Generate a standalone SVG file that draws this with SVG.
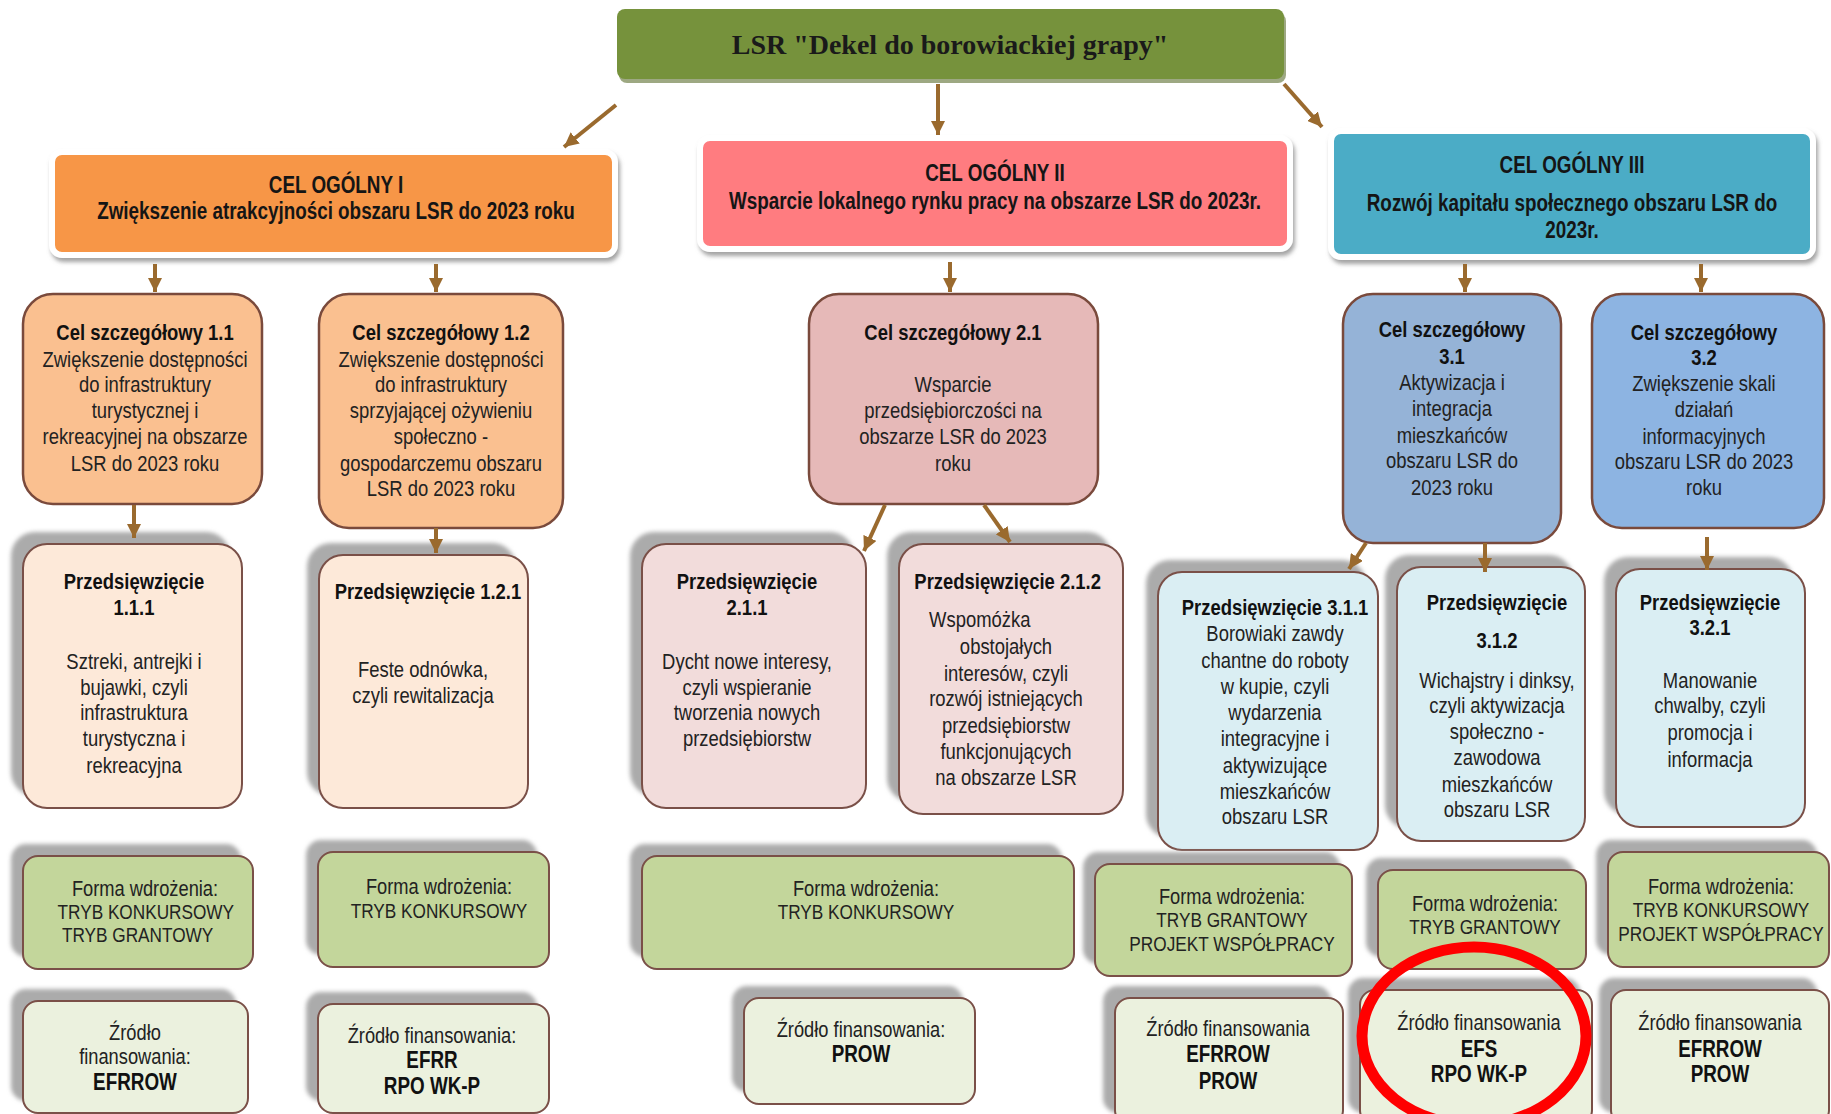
<svg xmlns="http://www.w3.org/2000/svg" width="1831" height="1114" viewBox="0 0 1831 1114">
<defs>
<style>
.t{font-family:'Liberation Sans',Arial,sans-serif;text-anchor:middle;fill:#222}
.b{font-weight:bold;fill:#111}
.f22{font-size:22.5px}
.f21{font-size:21px}
.fz{font-size:22.3px}
.f23{font-size:23px}
.og{font-family:'Liberation Sans',Arial,sans-serif;font-weight:bold;font-size:23px;text-anchor:middle;fill:#151515}
.sh{fill:#ababab;filter:url(#bl)}
.l2{stroke:#7a4a3c;stroke-width:2.5}
.l3{stroke:#7a5048;stroke-width:2}
.cel{stroke:#fff;stroke-width:6;filter:url(#ds)}
.c1{fill:#fac090}.c2{fill:#e6b9b8}.c3a{fill:#95b3d7}.c3b{fill:#8db4e2}
.p1{fill:#fde9d9}.p2{fill:#f2dcdb}.p3{fill:#daeef3}
.fw{fill:#c3d69b}.zf{fill:#ebf1de}
.ar{stroke:#9a6a2e;stroke-width:4;fill:none;marker-end:url(#ah)}
</style>
<filter id="bl" x="-10%" y="-10%" width="120%" height="120%"><feGaussianBlur stdDeviation="2"/></filter>
<filter id="ds" x="-10%" y="-20%" width="120%" height="150%"><feDropShadow dx="2" dy="4" stdDeviation="2" flood-color="#8c8c8c" flood-opacity="0.8"/></filter>
<marker id="ah" viewBox="0 0 10 10" refX="10" refY="5" markerWidth="3.6" markerHeight="3.6" orient="auto" markerUnits="strokeWidth"><path d="M0,0 L10,5 L0,10 z" fill="#9a6a2e"/></marker>
</defs>
<rect width="1831" height="1114" fill="#fff"/>

<g id="lsr">
<rect x="619" y="13" width="667" height="70" rx="8" fill="#5b6e2e" opacity="0.6"/>
<rect x="617" y="9" width="667" height="70" rx="8" fill="#76923c"/>
<text x="950" y="54" style="font-family:'Liberation Serif',serif;font-weight:bold;font-size:28px;text-anchor:middle;fill:#1a1a1a">LSR "Dekel do borowiackiej grapy"</text>
</g>

<g id="cel-ogolny-1">
<rect class="cel" x="52" y="152" width="563" height="103" rx="10" fill="#f79646"/>
<g transform="translate(336 0) scale(0.82 1) translate(-336 0)">
<text class="og" x="336" y="193">CEL OGÓLNY I</text>
<text class="og" x="336" y="219">Zwiększenie atrakcyjności obszaru LSR do 2023 roku</text>
</g>
</g>
<g id="cel-ogolny-2">
<rect class="cel" x="700" y="138" width="590" height="111" rx="10" fill="#ff7c80"/>
<g transform="translate(995 0) scale(0.82 1) translate(-995 0)">
<text class="og" x="995" y="181">CEL OGÓLNY II</text>
<text class="og" x="995" y="209">Wsparcie lokalnego rynku pracy na obszarze LSR do 2023r.</text>
</g>
</g>
<g id="cel-ogolny-3">
<rect class="cel" x="1331" y="131" width="482" height="126" rx="10" fill="#4bacc6"/>
<g transform="translate(1572 0) scale(0.82 1) translate(-1572 0)">
<text class="og" x="1572" y="173">CEL OGÓLNY III</text>
<text class="og" x="1572" y="211">Rozwój kapitału społecznego obszaru LSR do</text>
<text class="og" x="1572" y="238">2023r.</text>
</g>
</g>

<g id="cel-1-1">
<rect class="c1 l2" x="23" y="294" width="239" height="210" rx="30"/>
<g transform="translate(145 0) scale(0.82 1) translate(-145 0)">
<text class="t f22 b" x="145" y="340">Cel szczegółowy 1.1</text>
<text class="t f22" x="145" y="367">Zwiększenie dostępności</text>
<text class="t f22" x="145" y="392">do infrastruktury</text>
<text class="t f22" x="145" y="418">turystycznej i</text>
<text class="t f22" x="145" y="444">rekreacyjnej na obszarze</text>
<text class="t f22" x="145" y="471">LSR do 2023 roku</text>
</g>
</g>
<g id="cel-1-2">
<rect class="c1 l2" x="319" y="294" width="244" height="234" rx="30"/>
<g transform="translate(441 0) scale(0.82 1) translate(-441 0)">
<text class="t f22 b" x="441" y="340">Cel szczegółowy 1.2</text>
<text class="t f22" x="441" y="367">Zwiększenie dostępności</text>
<text class="t f22" x="441" y="392">do infrastruktury</text>
<text class="t f22" x="441" y="418">sprzyjającej ożywieniu</text>
<text class="t f22" x="441" y="444">społeczno -</text>
<text class="t f22" x="441" y="471">gospodarczemu obszaru</text>
<text class="t f22" x="441" y="496">LSR do 2023 roku</text>
</g>
</g>
<g id="cel-2-1">
<rect class="c2 l2" x="809" y="294" width="289" height="210" rx="30"/>
<g transform="translate(953 0) scale(0.82 1) translate(-953 0)">
<text class="t f22 b" x="953" y="340">Cel szczegółowy 2.1</text>
<text class="t f22" x="953" y="392">Wsparcie</text>
<text class="t f22" x="953" y="418">przedsiębiorczości na</text>
<text class="t f22" x="953" y="444">obszarze LSR do 2023</text>
<text class="t f22" x="953" y="471">roku</text>
</g>
</g>
<g id="cel-3-1">
<rect class="c3a l2" x="1343" y="294" width="218" height="249" rx="30"/>
<g transform="translate(1452 0) scale(0.82 1) translate(-1452 0)">
<text class="t f22 b" x="1452" y="337">Cel szczegółowy</text>
<text class="t f22 b" x="1452" y="364">3.1</text>
<text class="t f22" x="1452" y="390">Aktywizacja i</text>
<text class="t f22" x="1452" y="416">integracja</text>
<text class="t f22" x="1452" y="443">mieszkańców</text>
<text class="t f22" x="1452" y="468">obszaru LSR do</text>
<text class="t f22" x="1452" y="495">2023 roku</text>
</g>
</g>
<g id="cel-3-2">
<rect class="c3b l2" x="1592" y="294" width="232" height="234" rx="30"/>
<g transform="translate(1704 0) scale(0.82 1) translate(-1704 0)">
<text class="t f22 b" x="1704" y="340">Cel szczegółowy</text>
<text class="t f22 b" x="1704" y="365">3.2</text>
<text class="t f22" x="1704" y="391">Zwiększenie skali</text>
<text class="t f22" x="1704" y="417">działań</text>
<text class="t f22" x="1704" y="444">informacyjnych</text>
<text class="t f22" x="1704" y="469">obszaru LSR do 2023</text>
<text class="t f22" x="1704" y="495">roku</text>
</g>
</g>

<g id="przedsiewziecie-1-1-1">
<rect class="sh" x="11" y="532" width="219" height="264" rx="24"/>
<rect class="p1 l3" x="23" y="544" width="219" height="264" rx="24"/>
<g transform="translate(134 0) scale(0.82 1) translate(-134 0)">
<text class="t f22 b" x="134" y="589">Przedsięwzięcie</text>
<text class="t f22 b" x="134" y="615">1.1.1</text>
<text class="t f22" x="134" y="669">Sztreki, antrejki i</text>
<text class="t f22" x="134" y="695">bujawki, czyli</text>
<text class="t f22" x="134" y="720">infrastruktura</text>
<text class="t f22" x="134" y="746">turystyczna i</text>
<text class="t f22" x="134" y="773">rekreacyjna</text>
</g>
</g>
<g id="przedsiewziecie-1-2-1">
<rect class="sh" x="307" y="543" width="209" height="253" rx="24"/>
<rect class="p1 l3" x="319" y="555" width="209" height="253" rx="24"/>
<g transform="translate(423 0) scale(0.82 1) translate(-423 0)">
<text class="t f22 b" x="429" y="599">Przedsięwzięcie 1.2.1</text>
<text class="t f22" x="423" y="677">Feste odnówka,</text>
<text class="t f22" x="423" y="703">czyli rewitalizacja</text>
</g>
</g>
<g id="przedsiewziecie-2-1-1">
<rect class="sh" x="630" y="532" width="224" height="264" rx="24"/>
<rect class="p2 l3" x="642" y="544" width="224" height="264" rx="24"/>
<g transform="translate(747 0) scale(0.82 1) translate(-747 0)">
<text class="t f22 b" x="747" y="589">Przedsięwzięcie</text>
<text class="t f22 b" x="747" y="615">2.1.1</text>
<text class="t f22" x="747" y="669">Dycht nowe interesy,</text>
<text class="t f22" x="747" y="695">czyli wspieranie</text>
<text class="t f22" x="747" y="720">tworzenia nowych</text>
<text class="t f22" x="747" y="746">przedsiębiorstw</text>
</g>
</g>
<g id="przedsiewziecie-2-1-2">
<rect class="sh" x="887" y="532" width="224" height="270" rx="24"/>
<rect class="p2 l3" x="899" y="544" width="224" height="270" rx="24"/>
<g transform="translate(1006 0) scale(0.82 1) translate(-1006 0)">
<text class="t f22 b" x="1008" y="589">Przedsięwzięcie 2.1.2</text>
<text class="t f22" x="974" y="627">Wspomóżka</text>
<text class="t f22" x="1006" y="654">obstojałych</text>
<text class="t f22" x="1006" y="681">interesów, czyli</text>
<text class="t f22" x="1006" y="706">rozwój istniejących</text>
<text class="t f22" x="1006" y="733">przedsiębiorstw</text>
<text class="t f22" x="1006" y="759">funkcjonujących</text>
<text class="t f22" x="1006" y="785">na obszarze LSR</text>
</g>
</g>
<g id="przedsiewziecie-3-1-1">
<rect class="sh" x="1146" y="560" width="220" height="278" rx="24"/>
<rect class="p3 l3" x="1158" y="572" width="220" height="278" rx="24"/>
<g transform="translate(1275 0) scale(0.82 1) translate(-1275 0)">
<text class="t f22 b" x="1275" y="615">Przedsięwzięcie 3.1.1</text>
<text class="t f22" x="1275" y="641">Borowiaki zawdy</text>
<text class="t f22" x="1275" y="668">chantne do roboty</text>
<text class="t f22" x="1275" y="694">w kupie, czyli</text>
<text class="t f22" x="1275" y="720">wydarzenia</text>
<text class="t f22" x="1275" y="746">integracyjne i</text>
<text class="t f22" x="1275" y="773">aktywizujące</text>
<text class="t f22" x="1275" y="799">mieszkańców</text>
<text class="t f22" x="1275" y="824">obszaru LSR</text>
</g>
</g>
<g id="przedsiewziecie-3-1-2">
<rect class="sh" x="1385" y="555" width="188" height="274" rx="24"/>
<rect class="p3 l3" x="1397" y="567" width="188" height="274" rx="24"/>
<g transform="translate(1497 0) scale(0.82 1) translate(-1497 0)">
<text class="t f22 b" x="1497" y="610">Przedsięwzięcie</text>
<text class="t f22 b" x="1497" y="648">3.1.2</text>
<text class="t f22" x="1497" y="688">Wichajstry i dinksy,</text>
<text class="t f22" x="1497" y="713">czyli aktywizacja</text>
<text class="t f22" x="1497" y="739">społeczno -</text>
<text class="t f22" x="1497" y="765">zawodowa</text>
<text class="t f22" x="1497" y="792">mieszkańców</text>
<text class="t f22" x="1497" y="817">obszaru LSR</text>
</g>
</g>
<g id="przedsiewziecie-3-2-1">
<rect class="sh" x="1604" y="557" width="189" height="258" rx="24"/>
<rect class="p3 l3" x="1616" y="569" width="189" height="258" rx="24"/>
<g transform="translate(1710 0) scale(0.82 1) translate(-1710 0)">
<text class="t f22 b" x="1710" y="610">Przedsięwzięcie</text>
<text class="t f22 b" x="1710" y="635">3.2.1</text>
<text class="t f22" x="1710" y="688">Manowanie</text>
<text class="t f22" x="1710" y="713">chwalby, czyli</text>
<text class="t f22" x="1710" y="740">promocja i</text>
<text class="t f22" x="1710" y="767">informacja</text>
</g>
</g>

<g id="forma-1">
<rect class="sh" x="11" y="844" width="230" height="113" rx="15"/>
<rect class="fw l3" x="23" y="856" width="230" height="113" rx="15"/>
<g transform="translate(145 0) scale(0.82 1) translate(-145 0)">
<text class="t fz" x="145" y="896">Forma wdrożenia:</text>
<text class="t f21" x="146" y="919">TRYB KONKURSOWY</text>
<text class="t f21" x="136" y="942">TRYB GRANTOWY</text>
</g>
</g>
<g id="forma-2">
<rect class="sh" x="306" y="840" width="231" height="115" rx="15"/>
<rect class="fw l3" x="318" y="852" width="231" height="115" rx="15"/>
<g transform="translate(439 0) scale(0.82 1) translate(-439 0)">
<text class="t fz" x="439" y="894">Forma wdrożenia:</text>
<text class="t f21" x="439" y="918">TRYB KONKURSOWY</text>
</g>
</g>
<g id="forma-3">
<rect class="sh" x="630" y="844" width="432" height="113" rx="15"/>
<rect class="fw l3" x="642" y="856" width="432" height="113" rx="15"/>
<g transform="translate(866 0) scale(0.82 1) translate(-866 0)">
<text class="t fz" x="866" y="896">Forma wdrożenia:</text>
<text class="t f21" x="866" y="919">TRYB KONKURSOWY</text>
</g>
</g>
<g id="forma-4">
<rect class="sh" x="1083" y="852" width="257" height="112" rx="15"/>
<rect class="fw l3" x="1095" y="864" width="257" height="112" rx="15"/>
<g transform="translate(1232 0) scale(0.82 1) translate(-1232 0)">
<text class="t fz" x="1232" y="904">Forma wdrożenia:</text>
<text class="t f21" x="1232" y="927">TRYB GRANTOWY</text>
<text class="t f21" x="1232" y="951">PROJEKT WSPÓŁPRACY</text>
</g>
</g>
<g id="forma-5">
<rect class="sh" x="1366" y="858" width="208" height="99" rx="15"/>
<rect class="fw l3" x="1378" y="870" width="208" height="99" rx="15"/>
<g transform="translate(1485 0) scale(0.82 1) translate(-1485 0)">
<text class="t fz" x="1485" y="911">Forma wdrożenia:</text>
<text class="t f21" x="1485" y="934">TRYB GRANTOWY</text>
</g>
</g>
<g id="forma-6">
<rect class="sh" x="1596" y="840" width="221" height="115" rx="15"/>
<rect class="fw l3" x="1608" y="852" width="221" height="115" rx="15"/>
<g transform="translate(1721 0) scale(0.82 1) translate(-1721 0)">
<text class="t fz" x="1721" y="894">Forma wdrożenia:</text>
<text class="t f21" x="1721" y="917">TRYB KONKURSOWY</text>
<text class="t f21" x="1721" y="941">PROJEKT WSPÓŁPRACY</text>
</g>
</g>

<g id="zrodlo-1">
<rect class="sh" x="11" y="989" width="225" height="112" rx="15"/>
<rect class="zf l3" x="23" y="1001" width="225" height="112" rx="15"/>
<g transform="translate(135 0) scale(0.82 1) translate(-135 0)">
<text class="t fz" x="135" y="1040">Źródło</text>
<text class="t fz" x="135" y="1064">finansowania:</text>
<text class="t f23 b" x="135" y="1090">EFRROW</text>
</g>
</g>
<g id="zrodlo-2">
<rect class="sh" x="306" y="992" width="231" height="109" rx="15"/>
<rect class="zf l3" x="318" y="1004" width="231" height="109" rx="15"/>
<g transform="translate(432 0) scale(0.82 1) translate(-432 0)">
<text class="t fz" x="432" y="1043">Źródło finansowania:</text>
<text class="t f23 b" x="432" y="1068">EFRR</text>
<text class="t f23 b" x="432" y="1094">RPO WK-P</text>
</g>
</g>
<g id="zrodlo-3">
<rect class="sh" x="732" y="986" width="231" height="106" rx="15"/>
<rect class="zf l3" x="744" y="998" width="231" height="106" rx="15"/>
<g transform="translate(861 0) scale(0.82 1) translate(-861 0)">
<text class="t fz" x="861" y="1037">Źródło finansowania:</text>
<text class="t f23 b" x="861" y="1062">PROW</text>
</g>
</g>
<g id="zrodlo-4">
<rect class="sh" x="1103" y="986" width="228" height="127" rx="15"/>
<rect class="zf l3" x="1115" y="998" width="228" height="127" rx="15"/>
<g transform="translate(1228 0) scale(0.82 1) translate(-1228 0)">
<text class="t fz" x="1228" y="1036">Źródło finansowania</text>
<text class="t f23 b" x="1228" y="1062">EFRROW</text>
<text class="t f23 b" x="1228" y="1089">PROW</text>
</g>
</g>
<g id="zrodlo-5">
<rect class="sh" x="1348" y="978" width="232" height="135" rx="15"/>
<rect class="zf l3" x="1360" y="990" width="232" height="135" rx="15"/>
<g transform="translate(1479 0) scale(0.82 1) translate(-1479 0)">
<text class="t fz" x="1479" y="1030">Źródło finansowania</text>
<text class="t f23 b" x="1479" y="1057">EFS</text>
<text class="t f23 b" x="1479" y="1082">RPO WK-P</text>
</g>
</g>
<g id="zrodlo-6">
<rect class="sh" x="1599" y="978" width="218" height="135" rx="15"/>
<rect class="zf l3" x="1611" y="990" width="218" height="135" rx="15"/>
<g transform="translate(1720 0) scale(0.82 1) translate(-1720 0)">
<text class="t fz" x="1720" y="1030">Źródło finansowania</text>
<text class="t f23 b" x="1720" y="1057">EFRROW</text>
<text class="t f23 b" x="1720" y="1082">PROW</text>
</g>
</g>

<g id="connectors">
<path class="ar" d="M616,105 L564,147"/>
<path class="ar" d="M938,84 L938,135"/>
<path class="ar" d="M1284,84 L1322,127"/>
<path class="ar" d="M155,264 L155,292"/>
<path class="ar" d="M436,264 L436,292"/>
<path class="ar" d="M950,262 L950,292"/>
<path class="ar" d="M1465,264 L1465,292"/>
<path class="ar" d="M1701,264 L1701,292"/>
<path class="ar" d="M134,505 L134,538"/>
<path class="ar" d="M436,528 L436,553"/>
<path class="ar" d="M885,505 L864,551"/>
<path class="ar" d="M984,505 L1010,542"/>
<path class="ar" d="M1366,543 L1349,569"/>
<path class="ar" d="M1485,543 L1485,572"/>
<path class="ar" d="M1707,537 L1707,570"/>
</g>

<ellipse id="highlight" cx="1474" cy="1036" rx="112" ry="89" fill="none" stroke="#ff0000" stroke-width="11"/>
</svg>
